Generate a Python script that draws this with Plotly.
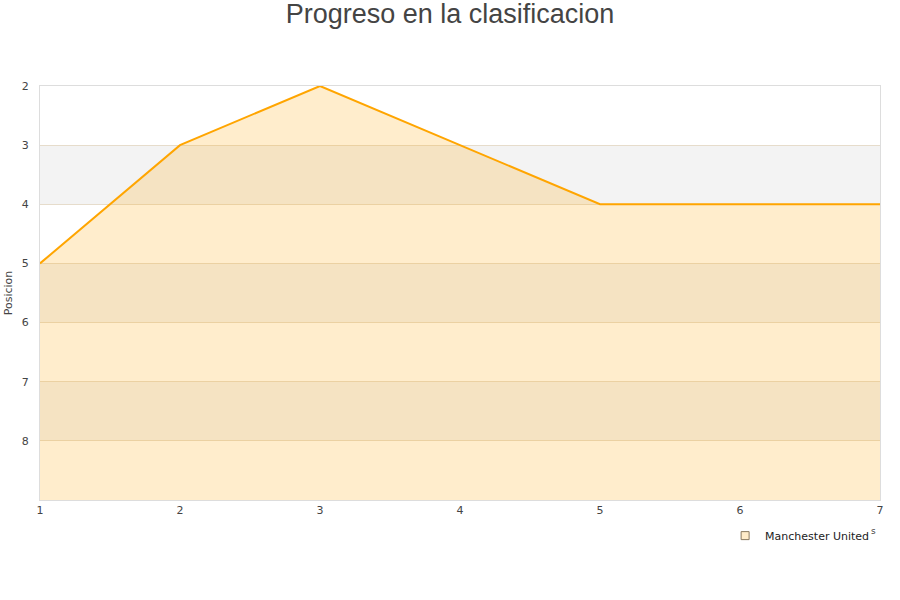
import plotly.graph_objects as go

jornadas = [1, 2, 3, 4, 5, 6, 7]
posiciones = [5, 3, 2, 3, 4, 4, 4]
equipo = "Manchester United"
fondo = [9, 9, 9, 9, 9, 9, 9]
y_ticks = [2, 3, 4, 5, 6, 7, 8]
bandas = [(3, 4), (5, 6), (7, 8)]

fig = go.Figure()
fig.add_trace(go.Scatter(x=jornadas, y=fondo, mode="lines", line=dict(width=0),
                         showlegend=False, hoverinfo="skip"))
fig.add_trace(go.Scatter(x=jornadas, y=posiciones, mode="lines", name=equipo,
                         line=dict(color="#ffa500", width=2), showlegend=False,
                         fill="tonexty", fillcolor="rgba(255,165,0,0.2)"))
fig.add_trace(go.Scatter(x=[None], y=[None], mode="markers", name=equipo,
                         marker=dict(symbol="square", size=8, color="#ffecc9",
                                     line=dict(color="#8a7a60", width=1))))

for a, b in bandas:
    fig.add_shape(type="rect", xref="paper", yref="y", x0=0, x1=1, y0=a, y1=b,
                  fillcolor="#f3f3f3", line=dict(width=0), layer="below")

fig.add_annotation(text="s", xref="paper", yref="paper", x=0.998, y=-0.091,
                   showarrow=False, font=dict(size=9, color="#444"))

fig.update_layout(
    width=900, height=600,
    margin=dict(l=40, r=20, t=86, b=100),
    paper_bgcolor="white", plot_bgcolor="white",
    font=dict(family="DejaVu Sans", size=11, color="#444"),
    title=dict(text="Progreso en la clasificacion", x=0.5, xanchor="center",
               y=0.993, yanchor="top",
               font=dict(family="Liberation Sans", size=27, color="#444")),
    xaxis=dict(range=[1, 7], tickvals=jornadas, showgrid=False, zeroline=False,
               showline=True, linecolor="#dddddd", mirror=True, ticks="",
               automargin=False),
    yaxis=dict(range=[9, 2], tickvals=y_ticks, showgrid=True, gridcolor="#e6dccb",
               zeroline=False, showline=True, linecolor="#dddddd", mirror=True,
               ticks="", ticklabelstandoff=8, automargin=False,
               title=dict(text="Posicion", font=dict(size=11), standoff=6)),
    legend=dict(orientation="h", x=0.993, xanchor="right", y=-0.051, yanchor="top",
                font=dict(size=11, color="#222"), itemwidth=30),
)

fig.write_html("out.html", config={"displayModeBar": False},
               post_script="document.body.style.margin='0px';")
